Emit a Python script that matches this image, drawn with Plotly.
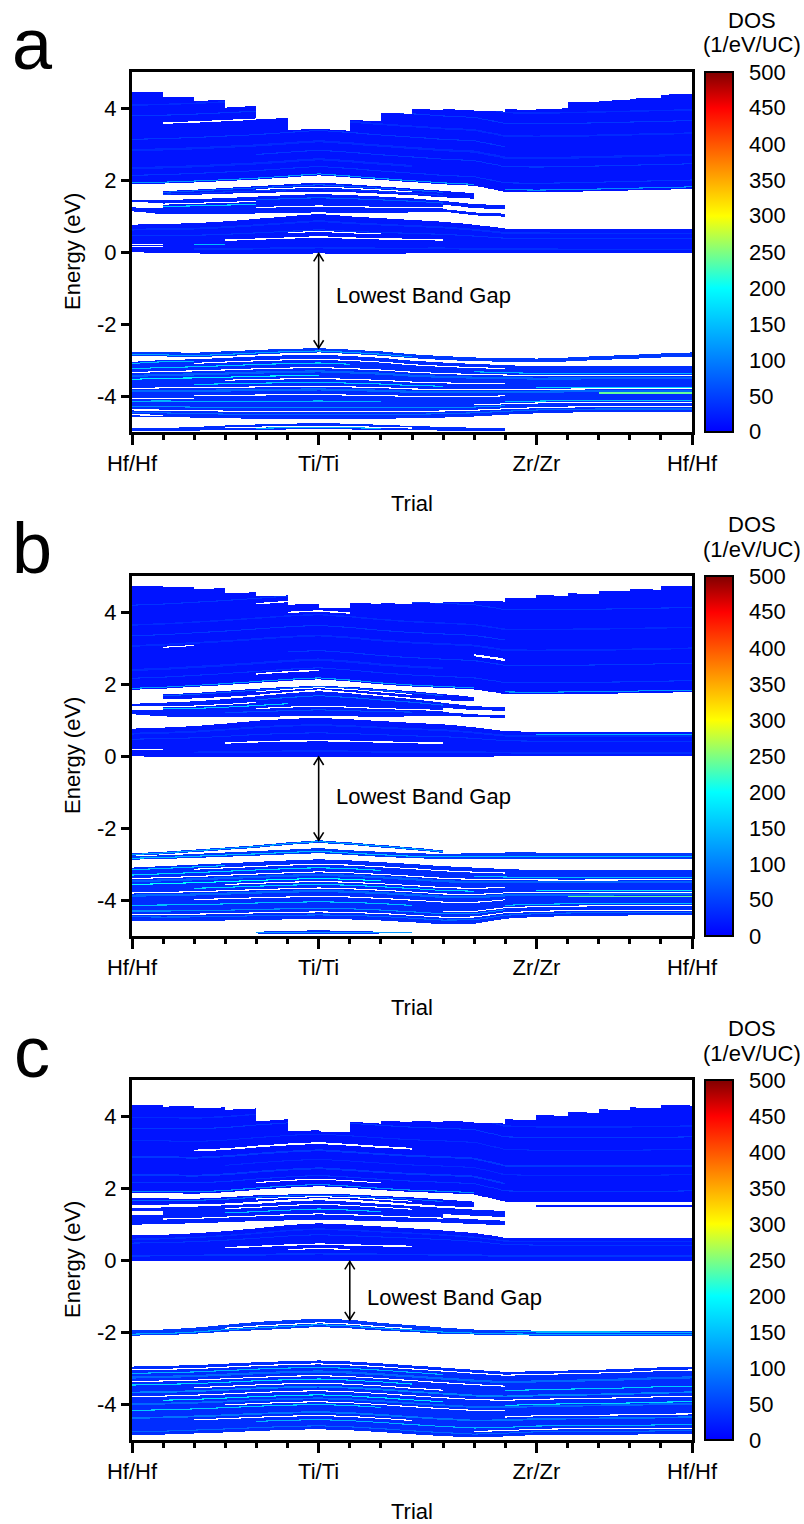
import numpy as np
import plotly.graph_objects as go

# ------------------------------------------------------------------ axis data
TRIAL_TICKS = [0, 6, 13, 18]
TRIAL_LABELS = ["Hf/Hf", "Ti/Ti", "Zr/Zr", "Hf/Hf"]
TRIAL_MINOR = list(range(19))
ENERGY_TICKS = [-4, -2, 0, 2, 4]
ENERGY_LABELS = ["-4", "-2", "0", "2", "4"]
ENERGY_RANGE = [-5, 5]
DOS_TICKS = list(range(0, 501, 50))
DOS_RANGE = [0, 500]
N_COLS = 18
N = None

# ------------------------------------------------------------------ panel a
A_CB3_TOP_L = [4.44, 4.30, 4.20, 4.01, 3.69, 3.39, 3.42, 3.67, 3.87, 3.97, 3.97, 3.93, 3.97, 3.97, 4.16, 4.20, 4.26, 4.37]
A_CB3_TOP_R = [4.44, 4.30, 4.22, 4.06, 3.72, 3.42, 3.37, 3.63, 3.84, 3.95, 3.94, 3.90, 3.94, 3.99, 4.18, 4.22, 4.28, 4.39]
A_CB3_BOT = [1.88, 1.90, 1.93, 1.97, 2.01, 2.07, 2.13, 2.07, 2.00, 1.94, 1.88, 1.84, 1.67, 1.66, 1.67, 1.69, 1.71, 1.73, 1.75]
A_MB1_LO = [N, 1.57, 1.59, 1.62, 1.64, 1.66, 1.68, 1.66, 1.62, 1.58, 1.52, 1.48, N, N, N, N, N, N, N]
A_MB1_HI = [N, 1.69, 1.73, 1.78, 1.83, 1.88, 1.93, 1.88, 1.82, 1.76, 1.70, 1.63, N, N, N, N, N, N, N]
A_MB2_LO = [1.13, 1.05, 1.05, 1.06, 1.07, 1.09, 1.10, 1.09, 1.08, 1.10, 1.12, 1.02, 0.98, N, N, N, N, N, N]
A_MB2_HI = [1.44, 1.44, 1.47, 1.50, 1.54, 1.58, 1.61, 1.58, 1.54, 1.49, 1.42, 1.33, 1.30, N, N, N, N, N, N]
A_LB_LO = [-0.01, -0.02, -0.04, -0.05, -0.05, -0.05, -0.04, -0.05, -0.05, -0.04, -0.03, -0.03, -0.02, -0.02, -0.03, -0.03, -0.03, -0.03, -0.03]
A_LB_HI = [0.76, 0.78, 0.80, 0.85, 0.92, 0.99, 1.06, 0.99, 0.94, 0.89, 0.84, 0.76, 0.65, 0.64, 0.63, 0.63, 0.63, 0.63, 0.63]
A_VB1_LO = [-2.90, -2.90, -2.92, -2.89, -2.85, -2.81, -2.79, -2.83, -2.88, -2.95, -3.00, -3.03, -3.05, -3.07, -3.04, -3.00, -2.97, -2.93, -2.91]
A_VB1_HI = [-2.78, -2.78, -2.80, -2.76, -2.72, -2.69, -2.67, -2.71, -2.76, -2.84, -2.89, -2.93, -2.94, -2.96, -2.93, -2.89, -2.86, -2.82, -2.79]
A_VB2_LO = [-4.57, -4.58, -4.60, -4.62, -4.63, -4.64, -4.64, -4.64, -4.63, -4.62, -4.60, -4.57, -4.52, -4.48, -4.46, -4.45, -4.45, -4.45, -4.45]
A_VB2_HI = [-3.05, -3.00, -2.98, -2.94, -2.90, -2.87, -2.85, -2.89, -2.94, -3.02, -3.07, -3.11, -3.14, -3.18, -3.18, -3.18, -3.18, -3.18, -3.18]
A_VB3_LO = [-4.97, -4.97, -4.96, -4.95, -4.94, -4.93, -4.92, -4.93, -4.94, -4.95, -4.96, -4.97, -4.98, N, N, N, N, N, N]
A_VB3_HI = [-4.90, -4.89, -4.86, -4.82, -4.79, -4.77, -4.75, -4.77, -4.80, -4.83, -4.86, -4.88, -4.90, N, N, N, N, N, N]
# base DOS per band: cb3, mb1, mb2, lb, vb1, vb2, vb3
A_BASE_DOS = [15, 20, 25, 18, 45, 35, 35]
# streaks: (position, DOS or None for empty, trial from, trial to, width eV)
A_CB3_STREAKS = [(0.04, 120, 0, 11, 0.03), (0.06, 110, 12, 18, 0.03), (0.25, 40, 0, 18, 0.03),
                 (0.45, 32, 0, 9, 0.06), (0.70, 42, 4, 18, 0.03), (0.95, 32, 0, 18, 0.06),
                 (1.25, 42, 0, 12, 0.03), (1.55, 32, 6, 18, 0.05), (1.68, None, 1, 4, 0.04),
                 (1.90, 42, 0, 18, 0.03), (2.20, 32, 0, 18, 0.04)]
A_MB1_STREAKS = [(0.50, None, 4, 9, 0.03), (0.75, 70, 1, 10, 0.03), (0.30, 45, 1, 10, 0.03)]
A_MB2_STREAKS = [(0.60, None, 0, 1, 0.15), (0.72, None, 1, 4, 0.03), (0.55, 160, 1, 4, 0.03),
                 (0.35, None, 4, 10, 0.03), (0.80, 70, 4, 10, 0.03), (0.45, None, 10, 12, 0.12)]
A_LB_STREAKS = [(0.42, None, 3, 10, 0.04), (0.20, None, 0, 1, 0.03), (0.30, None, 0, 1, 0.03),
                (0.30, 150, 2, 3, 0.03), (0.60, 40, 0, 18, 0.03), (0.82, 35, 0, 18, 0.05),
                (0.15, 35, 2, 18, 0.05), (0.56, None, 5, 8, 0.03)]
A_VB1_STREAKS = [(0.35, 130, 0, 9, 0.03)]
A_VB2_STREAKS = [(0.97, 150, 0, 2, 0.03), (0.93, None, 2, 12, 0.03), (0.87, 160, 0, 7, 0.03),
                 (0.85, 140, 11, 18, 0.03), (0.80, None, 0, 18, 0.03), (0.74, 75, 0, 18, 0.06),
                 (0.68, 190, 0, 6, 0.03), (0.63, None, 3, 12, 0.03), (0.57, 160, 2, 10, 0.03),
                 (0.55, 170, 13, 18, 0.03), (0.51, None, 0, 18, 0.03), (0.46, 80, 0, 18, 0.06),
                 (0.42, 240, 15, 18, 0.03), (0.38, None, 2, 12, 0.03), (0.33, None, 0, 2, 0.03),
                 (0.28, 140, 0, 8, 0.03), (0.26, 150, 12, 18, 0.03), (0.22, None, 11, 18, 0.03),
                 (0.18, 110, 0, 12, 0.03), (0.12, None, 0, 18, 0.03), (0.07, 80, 0, 18, 0.03),
                 (0.03, None, 0, 1, 0.03)]
A_VB3_STREAKS = [(0.50, None, 3, 9, 0.03), (0.30, 140, 4, 8, 0.03)]
A_GAP_TRIAL = 6
A_LABEL_POS = [6.5, -1.2]

# ------------------------------------------------------------------ panel b
B_CB3_TOP_L = [4.73, 4.69, 4.64, 4.52, 4.43, 4.20, 4.12, 4.25, 4.25, 4.28, 4.29, 4.32, 4.40, 4.47, 4.52, 4.59, 4.64, 4.73]
B_CB3_TOP_R = [4.73, 4.69, 4.66, 4.55, 4.46, 4.23, 4.11, 4.23, 4.22, 4.25, 4.28, 4.29, 4.39, 4.45, 4.50, 4.57, 4.62, 4.71]
B_CB3_BOT = [1.84, 1.87, 1.92, 1.97, 2.03, 2.09, 2.13, 2.07, 1.99, 1.93, 1.89, 1.85, 1.72, 1.71, 1.72, 1.73, 1.74, 1.76, 1.77]
B_MB1_LO = [N, 1.57, 1.60, 1.64, 1.70, 1.78, 1.85, 1.78, 1.70, 1.62, 1.55, 1.52, N, N, N, N, N, N, N]
B_MB1_HI = [N, 1.71, 1.75, 1.81, 1.87, 1.92, 1.95, 1.92, 1.86, 1.80, 1.72, 1.64, N, N, N, N, N, N, N]
B_MB2_LO = [1.16, 1.10, 1.08, 1.08, 1.09, 1.10, 1.11, 1.10, 1.09, 1.10, 1.12, 1.08, 1.06, N, N, N, N, N, N]
B_MB2_HI = [1.45, 1.48, 1.52, 1.58, 1.66, 1.74, 1.80, 1.74, 1.66, 1.58, 1.48, 1.38, 1.36, N, N, N, N, N, N]
B_LB_LO = [-0.01, -0.02, -0.03, -0.03, -0.03, -0.03, -0.03, -0.03, -0.03, -0.03, -0.02, -0.02, -0.01, -0.01, -0.01, -0.01, -0.01, -0.01, -0.01]
B_LB_HI = [0.76, 0.79, 0.83, 0.90, 0.98, 1.03, 1.06, 1.02, 0.97, 0.92, 0.88, 0.80, 0.69, 0.67, 0.67, 0.67, 0.67, 0.67, 0.67]
B_VB0_LO = [-2.77, -2.73, -2.67, -2.61, -2.55, -2.47, -2.41, -2.47, -2.54, -2.61, -2.69, N, N, N, N, N, N, N, N]
B_VB0_HI = [-2.70, -2.66, -2.60, -2.54, -2.48, -2.40, -2.34, -2.40, -2.47, -2.54, -2.62, N, N, N, N, N, N, N, N]
B_VB1_LO = [-2.88, -2.86, -2.83, -2.80, -2.77, -2.73, -2.70, -2.75, -2.80, -2.84, -2.86, -2.86, -2.85, -2.85, -2.86, -2.86, -2.86, -2.86, -2.86]
B_VB1_HI = [-2.78, -2.76, -2.72, -2.68, -2.64, -2.60, -2.56, -2.62, -2.66, -2.70, -2.72, -2.70, -2.68, -2.68, -2.70, -2.70, -2.70, -2.70, -2.70]
B_VB2_LO = [-4.57, -4.58, -4.58, -4.57, -4.55, -4.54, -4.53, -4.54, -4.57, -4.62, -4.67, -4.66, -4.52, -4.47, -4.45, -4.44, -4.43, -4.43, -4.43]
B_VB2_HI = [-3.10, -3.06, -3.02, -2.98, -2.94, -2.90, -2.87, -2.90, -2.95, -3.00, -3.06, -3.10, -3.14, -3.17, -3.18, -3.18, -3.18, -3.18, -3.18]
B_VB3_LO = [N, N, N, N, -4.93, -4.94, -4.95, -4.94, -4.93, -4.92, N, N, N, N, N, N, N, N, N]
B_VB3_HI = [N, N, N, N, -4.88, -4.86, -4.84, -4.86, -4.88, -4.90, N, N, N, N, N, N, N, N, N]
B_BASE_DOS = [15, 20, 25, 18, 45, 45, 35, 35]
B_CB3_STREAKS = [(0.04, 120, 0, 11, 0.03), (0.06, 120, 12, 18, 0.03), (0.25, None, 4, 6, 0.04),
                 (0.32, 40, 0, 18, 0.03), (0.55, 32, 0, 10, 0.06), (0.80, 42, 5, 18, 0.03),
                 (0.95, None, 11, 12, 0.06), (1.15, None, 1, 2, 0.03), (1.22, 32, 0, 18, 0.05),
                 (1.50, 42, 0, 12, 0.03), (1.80, 32, 0, 18, 0.04), (1.90, None, 5, 7, 0.04),
                 (2.20, None, 4, 5, 0.04), (2.35, 40, 0, 18, 0.03)]
B_MB1_STREAKS = [(0.50, None, 4, 9, 0.03), (0.75, 70, 1, 10, 0.03)]
B_MB2_STREAKS = [(0.60, None, 0, 1, 0.12), (0.70, None, 1, 4, 0.03), (0.55, 160, 1, 5, 0.03),
                 (0.40, None, 4, 10, 0.03), (0.82, 80, 4, 10, 0.03), (0.45, None, 10, 12, 0.12),
                 (0.25, 60, 3, 9, 0.03)]
B_LB_STREAKS = [(0.42, None, 3, 10, 0.04), (0.25, None, 0, 1, 0.03), (0.62, 40, 0, 18, 0.03),
                (0.82, 35, 0, 18, 0.05), (0.15, 35, 2, 18, 0.05), (0.90, 140, 13, 18, 0.03)]
B_VB0_STREAKS = [(0.50, 130, 0, 10, 0.03)]
B_VB1_STREAKS = [(0.40, 150, 0, 18, 0.03)]
B_VB2_STREAKS = [(0.96, 150, 0, 3, 0.03), (0.92, None, 2, 12, 0.03), (0.86, 170, 0, 8, 0.03),
                 (0.84, 150, 11, 18, 0.03), (0.79, None, 0, 18, 0.03), (0.74, 75, 0, 18, 0.06),
                 (0.68, 200, 0, 8, 0.03), (0.63, None, 3, 12, 0.03), (0.58, 170, 2, 11, 0.03),
                 (0.56, 180, 13, 18, 0.03), (0.52, None, 0, 18, 0.03), (0.47, 80, 0, 18, 0.06),
                 (0.43, 240, 14, 18, 0.03), (0.38, None, 2, 12, 0.03), (0.29, 150, 0, 9, 0.03),
                 (0.27, 150, 12, 18, 0.03), (0.22, None, 10, 18, 0.03), (0.18, 110, 0, 12, 0.03),
                 (0.12, None, 0, 18, 0.03), (0.07, 80, 0, 18, 0.03)]
B_VB3_STREAKS = [(0.50, 120, 4, 9, 0.03)]
B_GAP_TRIAL = 6
B_LABEL_POS = [6.5, -1.13]

# ------------------------------------------------------------------ panel c
C_CB3_TOP_L = [4.31, 4.26, 4.21, 4.17, 3.85, 3.59, 3.57, 3.84, 3.86, 3.86, 3.86, 3.82, 3.91, 4.03, 4.11, 4.19, 4.24, 4.31]
C_CB3_TOP_R = [4.31, 4.28, 4.24, 4.21, 3.91, 3.60, 3.56, 3.79, 3.84, 3.84, 3.84, 3.79, 3.88, 4.00, 4.09, 4.16, 4.22, 4.29]
C_CB3_BOT = [1.86, 1.86, 1.84, 1.88, 1.95, 2.01, 2.05, 2.00, 1.94, 1.89, 1.86, 1.82, 1.62, 1.60, 1.60, 1.60, 1.60, 1.61, 1.62]
C_CB2_LO = [N, N, N, N, N, N, N, N, N, N, N, N, N, 1.46, 1.46, 1.46, 1.47, 1.47, 1.47]
C_CB2_HI = [N, N, N, N, N, N, N, N, N, N, N, N, N, 1.52, 1.52, 1.52, 1.53, 1.53, 1.53]
C_MB1_LO = [1.52, 1.54, 1.55, 1.57, 1.62, 1.68, 1.72, 1.68, 1.62, 1.56, 1.50, 1.46, N, N, N, N, N, N, N]
C_MB1_HI = [1.72, 1.71, 1.70, 1.74, 1.80, 1.82, 1.82, 1.82, 1.78, 1.74, 1.68, 1.62, N, N, N, N, N, N, N]
C_MB2_LO = [0.98, 1.00, 1.02, 1.05, 1.08, 1.10, 1.12, 1.10, 1.08, 1.06, 1.04, 1.00, 0.96, N, N, N, N, N, N]
C_MB2_HI = [1.44, 1.46, 1.48, 1.52, 1.56, 1.62, 1.66, 1.62, 1.56, 1.50, 1.45, 1.40, 1.36, N, N, N, N, N, N]
C_LB_LO = [-0.02, -0.02, -0.03, -0.03, -0.04, -0.04, -0.03, -0.04, -0.04, -0.03, -0.02, -0.02, -0.02, -0.02, -0.02, -0.02, -0.02, -0.02, -0.02]
C_LB_HI = [0.68, 0.70, 0.74, 0.80, 0.88, 0.97, 1.02, 0.98, 0.93, 0.88, 0.82, 0.75, 0.62, 0.60, 0.60, 0.60, 0.60, 0.60, 0.60]
C_VB1_LO = [-2.10, -2.09, -2.05, -1.99, -1.95, -1.91, -1.86, -1.90, -1.96, -2.00, -2.05, -2.07, -2.09, -2.10, -2.10, -2.10, -2.11, -2.11, -2.11]
C_VB1_HI = [-1.95, -1.93, -1.88, -1.80, -1.72, -1.67, -1.63, -1.66, -1.75, -1.81, -1.88, -1.93, -1.95, -1.96, -1.96, -1.96, -1.96, -1.96, -1.96]
C_VB2_LO = [-4.86, -4.85, -4.82, -4.79, -4.75, -4.72, -4.70, -4.73, -4.78, -4.84, -4.89, -4.93, -4.90, -4.86, -4.85, -4.85, -4.85, -4.84, -4.84]
C_VB2_HI = [-2.96, -2.94, -2.92, -2.88, -2.84, -2.81, -2.79, -2.82, -2.87, -2.93, -2.99, -3.05, -3.11, -3.09, -3.07, -3.05, -3.02, -2.98, -2.96]
C_BASE_DOS = [15, 18, 20, 25, 18, 45, 35]
C_CB3_STREAKS = [(0.05, 110, 0, 11, 0.03), (0.20, None, 4, 8, 0.03), (0.30, 40, 0, 18, 0.03),
                 (0.50, 42, 0, 12, 0.05), (0.75, 32, 3, 18, 0.03), (1.00, 42, 0, 18, 0.05),
                 (1.20, None, 2, 9, 0.05), (1.45, 32, 0, 18, 0.03), (1.80, 42, 0, 18, 0.03),
                 (2.10, 32, 0, 18, 0.04)]
C_CB2_STREAKS = []
C_MB1_STREAKS = [(0.40, None, 4, 9, 0.03), (0.70, 80, 0, 10, 0.03)]
C_MB2_STREAKS = [(0.69, None, 0, 1, 0.11), (0.55, 150, 3, 8, 0.03), (0.30, None, 1, 10, 0.03),
                 (0.80, None, 3, 9, 0.03), (0.45, None, 10, 12, 0.10)]
C_LB_STREAKS = [(0.45, None, 3, 9, 0.04), (0.33, None, 5, 7, 0.03), (0.70, 40, 0, 18, 0.03),
                (0.20, 40, 0, 18, 0.05), (0.85, 35, 0, 18, 0.04)]
C_VB1_STREAKS = [(0.50, None, 3, 9, 0.03), (0.28, 130, 0, 18, 0.03), (0.72, 140, 12, 18, 0.03)]
C_VB2_STREAKS = [(0.95, None, 0, 18, 0.03), (0.90, 140, 0, 10, 0.03), (0.84, 80, 0, 18, 0.06),
                 (0.78, None, 0, 12, 0.03), (0.73, 170, 0, 9, 0.03), (0.71, 160, 12, 18, 0.03),
                 (0.67, None, 2, 10, 0.03), (0.62, 100, 0, 18, 0.05), (0.56, None, 0, 18, 0.03),
                 (0.50, 180, 1, 10, 0.03), (0.48, 170, 12, 18, 0.03), (0.45, 80, 0, 18, 0.05),
                 (0.40, None, 3, 12, 0.03), (0.36, 160, 0, 8, 0.03), (0.30, None, 12, 18, 0.03),
                 (0.25, 90, 0, 18, 0.05), (0.20, None, 2, 9, 0.03), (0.14, 140, 4, 18, 0.03),
                 (0.09, None, 11, 18, 0.03), (0.05, 80, 0, 18, 0.03)]
C_GAP_TRIAL = 7
C_LABEL_POS = [7.5, -1.03]

# ------------------------------------------------------------------ grid + band rasterising
SUB = 16
N_ROWS = 360
XS = (np.arange(N_COLS * SUB) + 0.5) / SUB
COL = np.floor(XS).astype(int)
FR = XS - COL
EY = ENERGY_RANGE[0] + (np.arange(N_ROWS) + 0.5) * (ENERGY_RANGE[1] - ENERGY_RANGE[0]) / N_ROWS


def edge(nodes):
    arr = np.array([np.nan if v is None else v for v in nodes], dtype=float)
    return arr[COL] + (arr[COL + 1] - arr[COL]) * FR


def edge_cols(left, right):
    L = np.asarray(left, float)
    R = np.asarray(right, float)
    return L[COL] + (R[COL] - L[COL]) * FR


def build(bands):
    Z = np.full((N_ROWS, XS.size), np.nan)
    E = EY[:, None]
    for lo, hi, base, specs, mode in bands:
        inside = (E >= lo[None, :]) & (E <= hi[None, :])
        Z[inside] = base
        for pos, dos, x0, x1, th in specs:
            c = lo + pos * (hi - lo) if mode == "frac" else lo + pos
            xm = (XS >= x0) & (XS <= x1)
            m = inside & xm[None, :] & (np.abs(E - c[None, :]) <= th / 2)
            Z[m] = np.nan if dos is None else dos
    return Z


ZA = build([
    (edge(A_LB_LO), edge(A_LB_HI), A_BASE_DOS[3], A_LB_STREAKS, "frac"),
    (edge(A_MB2_LO), edge(A_MB2_HI), A_BASE_DOS[2], A_MB2_STREAKS, "frac"),
    (edge(A_MB1_LO), edge(A_MB1_HI), A_BASE_DOS[1], A_MB1_STREAKS, "frac"),
    (edge(A_CB3_BOT), edge_cols(A_CB3_TOP_L, A_CB3_TOP_R), A_BASE_DOS[0], A_CB3_STREAKS, "offset"),
    (edge(A_VB1_LO), edge(A_VB1_HI), A_BASE_DOS[4], A_VB1_STREAKS, "frac"),
    (edge(A_VB2_LO), edge(A_VB2_HI), A_BASE_DOS[5], A_VB2_STREAKS, "frac"),
    (edge(A_VB3_LO), edge(A_VB3_HI), A_BASE_DOS[6], A_VB3_STREAKS, "frac"),
])
ZB = build([
    (edge(B_LB_LO), edge(B_LB_HI), B_BASE_DOS[3], B_LB_STREAKS, "frac"),
    (edge(B_MB2_LO), edge(B_MB2_HI), B_BASE_DOS[2], B_MB2_STREAKS, "frac"),
    (edge(B_MB1_LO), edge(B_MB1_HI), B_BASE_DOS[1], B_MB1_STREAKS, "frac"),
    (edge(B_CB3_BOT), edge_cols(B_CB3_TOP_L, B_CB3_TOP_R), B_BASE_DOS[0], B_CB3_STREAKS, "offset"),
    (edge(B_VB0_LO), edge(B_VB0_HI), B_BASE_DOS[4], B_VB0_STREAKS, "frac"),
    (edge(B_VB1_LO), edge(B_VB1_HI), B_BASE_DOS[5], B_VB1_STREAKS, "frac"),
    (edge(B_VB2_LO), edge(B_VB2_HI), B_BASE_DOS[6], B_VB2_STREAKS, "frac"),
    (edge(B_VB3_LO), edge(B_VB3_HI), B_BASE_DOS[7], B_VB3_STREAKS, "frac"),
])
ZC = build([
    (edge(C_LB_LO), edge(C_LB_HI), C_BASE_DOS[4], C_LB_STREAKS, "frac"),
    (edge(C_MB2_LO), edge(C_MB2_HI), C_BASE_DOS[3], C_MB2_STREAKS, "frac"),
    (edge(C_MB1_LO), edge(C_MB1_HI), C_BASE_DOS[2], C_MB1_STREAKS, "frac"),
    (edge(C_CB2_LO), edge(C_CB2_HI), C_BASE_DOS[1], C_CB2_STREAKS, "frac"),
    (edge(C_CB3_BOT), edge_cols(C_CB3_TOP_L, C_CB3_TOP_R), C_BASE_DOS[0], C_CB3_STREAKS, "offset"),
    (edge(C_VB1_LO), edge(C_VB1_HI), C_BASE_DOS[5], C_VB1_STREAKS, "frac"),
    (edge(C_VB2_LO), edge(C_VB2_HI), C_BASE_DOS[6], C_VB2_STREAKS, "frac"),
])

# gap arrow ends (conduction minimum / valence maximum at the marked trial)
GAPS = [
    (A_GAP_TRIAL, A_LB_LO[A_GAP_TRIAL], A_VB1_HI[A_GAP_TRIAL], A_LABEL_POS),
    (B_GAP_TRIAL, B_LB_LO[B_GAP_TRIAL], B_VB0_HI[B_GAP_TRIAL], B_LABEL_POS),
    (C_GAP_TRIAL, C_LB_LO[C_GAP_TRIAL], C_VB1_HI[C_GAP_TRIAL], C_LABEL_POS),
]
PANEL_LETTERS = ["a", "b", "c"]

# ------------------------------------------------------------------ figure
W, H = 804, 1524
FONT = "Liberation Sans, Arial, sans-serif"
JET = [[0.0, "rgb(0,0,255)"], [0.4, "rgb(0,255,255)"], [0.6, "rgb(255,255,0)"],
       [0.9, "rgb(255,0,0)"], [1.0, "rgb(128,0,0)"]]
PX_L, PX_R = 132, 692
TOPS = [72, 576, 1080]
PH = 360
CB_L, CB_W = 705, 28


def py(px):
    return 1 - px / H


fig = go.Figure()
layout = dict(width=W, height=H, margin=dict(l=0, r=0, t=0, b=0, autoexpand=False),
              paper_bgcolor="white", plot_bgcolor="white",
              font=dict(family=FONT, size=22, color="black"),
              showlegend=False, annotations=[], shapes=[])

for i, Z in enumerate([ZA, ZB, ZC]):
    sfx = "" if i == 0 else str(i + 1)
    tsfx = str(i + 4)
    top = TOPS[i]
    fig.add_trace(go.Heatmap(x=XS, y=EY, z=Z.astype(np.float32), coloraxis="coloraxis" + sfx,
                             xaxis="x" + sfx, yaxis="y" + sfx, hoverinfo="skip", zsmooth=False))
    layout["xaxis" + sfx] = dict(
        domain=[PX_L / W, PX_R / W], range=[0, N_COLS], anchor="y" + sfx, automargin=False,
        tickmode="array", tickvals=TRIAL_TICKS, ticktext=TRIAL_LABELS,
        ticks="outside", ticklen=10, tickwidth=2.5, tickcolor="black",
        showline=True, linewidth=3, linecolor="black", mirror=True,
        showgrid=False, zeroline=False, tickfont=dict(size=22),
        minor=dict(tickmode="array", tickvals=TRIAL_MINOR, ticks="outside", ticklen=5,
                   tickwidth=2.5, tickcolor="black", showgrid=False))
    # top tick marks
    layout["xaxis" + tsfx] = dict(
        domain=[PX_L / W, PX_R / W], range=[0, N_COLS], anchor="y" + sfx, overlaying="x" + sfx,
        side="top", automargin=False, showticklabels=False,
        tickmode="array", tickvals=TRIAL_TICKS, ticks="outside", ticklen=9, tickwidth=2.5,
        tickcolor="black", showline=False, showgrid=False, zeroline=False,
        minor=dict(tickmode="array", tickvals=TRIAL_MINOR, ticks="outside", ticklen=4,
                   tickwidth=2.5, tickcolor="black", showgrid=False))
    layout["yaxis" + sfx] = dict(
        domain=[py(top + PH), py(top)], range=ENERGY_RANGE, anchor="x" + sfx, automargin=False,
        tickmode="array", tickvals=ENERGY_TICKS, ticktext=ENERGY_LABELS,
        ticks="outside", ticklen=8, tickwidth=2.5, tickcolor="black",
        showline=True, linewidth=3, linecolor="black", mirror=True,
        showgrid=False, zeroline=False, tickfont=dict(size=22))
    layout["coloraxis" + sfx] = dict(
        cmin=DOS_RANGE[0], cmax=DOS_RANGE[1], colorscale=JET,
        colorbar=dict(x=CB_L / W, xanchor="left", xpad=0, thickness=CB_W,
                      y=py(top + PH / 2), yanchor="middle", ypad=0,
                      len=PH, lenmode="pixels", outlinewidth=2, outlinecolor="black",
                      tickmode="array", tickvals=DOS_TICKS, ticks="", showticklabels=False))

    ann = layout["annotations"]
    ann.append(dict(text=PANEL_LETTERS[i], x=32 / W, y=py(top - 28), xref="paper", yref="paper",
                    showarrow=False, font=dict(size=72), xanchor="center", yanchor="middle"))
    ann.append(dict(text="DOS", x=752 / W, y=py(top - 52), xref="paper", yref="paper",
                    showarrow=False, xanchor="center", yanchor="middle"))
    ann.append(dict(text="(1/eV/UC)", x=752 / W, y=py(top - 27), xref="paper", yref="paper",
                    showarrow=False, xanchor="center", yanchor="middle"))
    ann.append(dict(text="Trial", x=(PX_L + PX_R) / 2 / W, y=py(top + 431), xref="paper",
                    yref="paper", showarrow=False, xanchor="center", yanchor="middle"))
    ann.append(dict(text="Energy (eV)", x=72 / W, y=py(top + PH / 2), xref="paper", yref="paper",
                    showarrow=False, textangle=-90, xanchor="center", yanchor="middle"))

    gx, cb, vb, lab = GAPS[i]
    ann.append(dict(text="Lowest Band Gap", x=lab[0], y=lab[1], xref="x" + sfx, yref="y" + sfx,
                    showarrow=False, xanchor="left", yanchor="middle"))
    shp = layout["shapes"]
    line = dict(color="black", width=1.6)
    shp.append(dict(type="line", x0=gx, x1=gx, y0=vb, y1=cb, xref="x" + sfx, yref="y" + sfx, line=line))
    shp.append(dict(type="path", xref="x" + sfx, yref="y" + sfx, line=line,
                    path=f"M {gx-0.16},{cb-0.22} L {gx},{cb} L {gx+0.16},{cb-0.22}"))
    shp.append(dict(type="path", xref="x" + sfx, yref="y" + sfx, line=line,
                    path=f"M {gx-0.16},{vb+0.22} L {gx},{vb} L {gx+0.16},{vb+0.22}"))
    # colorbar tick labels and inward ticks on both edges
    for d in DOS_TICKS:
        ypx = top + (DOS_RANGE[1] - d) / (DOS_RANGE[1] - DOS_RANGE[0]) * PH
        ann.append(dict(text=str(d), x=(CB_L + CB_W + 14) / W, y=py(ypx), xref="paper",
                        yref="paper", showarrow=False, xanchor="left", yanchor="middle"))
        if DOS_RANGE[0] < d < DOS_RANGE[1]:
            for xa, xb in ((CB_L + 1, CB_L + 7), (CB_L + CB_W - 7, CB_L + CB_W - 1)):
                shp.append(dict(type="line", xref="paper", yref="paper", x0=xa / W, x1=xb / W,
                                y0=py(ypx), y1=py(ypx), line=dict(color="black", width=2.5)))

fig.update_layout(**layout)
fig.write_html("out.html")
